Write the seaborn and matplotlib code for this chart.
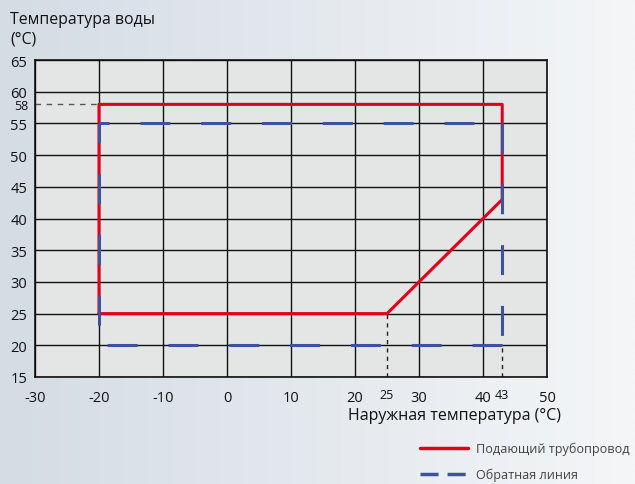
import numpy as np
import pandas as pd
import matplotlib
matplotlib.use("Agg")
import matplotlib.pyplot as plt
import seaborn as sns
from matplotlib.lines import Line2D

sns.set_theme(style="white")
plt.rcParams['font.family'] = ['Open Sans', 'DejaVu Sans']
plt.rcParams['axes.unicode_minus'] = False

# Operating envelope: supply (flow) line
supply_x = [-20, -20, 43, 43, 25, -20]
supply_y = [25, 58, 58, 43, 25, 25]
# Return line
return_x = [-20, -20, 43, 43, -20]
return_y = [20, 55, 55, 20, 20]

x_ticks = [-30, -20, -10, 0, 10, 20, 30, 40, 50]
y_ticks = [15, 20, 25, 30, 35, 40, 45, 50, 55, 60, 65]
x_marks = [25, 43]
y_marks = [58]

supply_label = "Подающий трубопровод"
return_label = "Обратная линия"
y_title = "Температура воды\n(°C)"
x_title = "Наружная температура (°C)"

supply_df = pd.DataFrame({"x": supply_x, "y": supply_y})

fig = plt.figure(figsize=(6.35, 4.85), dpi=100)

# soft horizontal gradient behind everything
bg = fig.add_axes([0, 0, 1, 1], zorder=-10)
grad = np.linspace(0, 1, 256)[None, :]
cmap = matplotlib.colors.LinearSegmentedColormap.from_list("bg", ["#d4dce4", "#e4e9ee", "#f4f6f8"])
bg.imshow(grad, aspect="auto", cmap=cmap, extent=[0, 1, 0, 1])
bg.axis("off")

ax = fig.add_axes([35 / 635, 1 - 378 / 485, 512 / 635, 317 / 485])
ax.set_facecolor("#e4e5e5")

red = "#e3001b"
blue = "#3d539e"

sns.lineplot(data=supply_df, x="x", y="y", sort=False, estimator=None, ax=ax,
             color=red, linewidth=2.2, zorder=3)

# return line: each side is stroked on its own, so every side gets its own dash phase
dash_on, dash_off = 9.8, 10.1
side_offsets = [13.4, 6.5, 0.0, 0.0]
for i, off in enumerate(side_offsets):
    seg = pd.DataFrame({"x": return_x[i:i + 2], "y": return_y[i:i + 2]})
    sns.lineplot(data=seg, x="x", y="y", sort=False, estimator=None, ax=ax,
                 color=blue, linewidth=2.2, zorder=4)
    ln = ax.lines[-1]
    ln.set_linestyle((off, (dash_on, dash_off)))
    ln.set_dash_capstyle("butt")

# reference guides to the special values
ax.plot([-30, -20], [58, 58], color="#555555", lw=1, ls=(0, (4, 4)), zorder=2)
ax.plot([25, 25], [15, 25], color="#222222", lw=1, ls=(0, (3, 3)), zorder=2)
ax.plot([43, 43], [15, 20], color="#222222", lw=1, ls=(0, (3, 3)), zorder=2)

ax.set_xlim(-30, 50)
ax.set_ylim(15, 65)
ax.set_xticks(x_ticks)
ax.set_yticks(y_ticks)
ax.set_xticks(x_marks, minor=True)
ax.set_xticklabels([str(v) for v in x_marks], minor=True)
ax.set_yticks(y_marks, minor=True)
ax.set_yticklabels([str(v) for v in y_marks], minor=True)

ax.tick_params(which="major", length=0, labelsize=10.5, colors="#111111")
ax.tick_params(which="minor", length=0, labelsize=9, colors="#111111")
ax.tick_params(axis="x", which="major", pad=9.5)
ax.tick_params(axis="x", which="minor", pad=8)
ax.tick_params(axis="y", which="major", pad=5.5)
ax.tick_params(axis="y", which="minor", pad=5)

ax.grid(True, which="major", color="#111111", lw=1)
ax.grid(False, which="minor")
for s in ax.spines.values():
    s.set_color("#111111")
    s.set_linewidth(1.2)

ax.set_xlabel("")
ax.set_ylabel("")
fig.text(455 / 635, 1 - 416 / 485, x_title, fontsize=11.5, color="#111111",
         va="center", ha="center")
fig.text(10 / 635, 1 - 12 / 485, y_title, fontsize=11.4, color="#111111",
         va="top", ha="left", linespacing=1.3)

handles = [Line2D([0], [0], color=red, lw=2.5),
           Line2D([0], [0], color=blue, lw=2.5, dashes=(5.2, 2.6))]
fig.legend(handles, [supply_label, return_label], loc="lower right",
           bbox_to_anchor=(1.0 - 3 / 635, 0.0), frameon=False, fontsize=9.1,
           labelcolor="#444444", handlelength=3.8, handletextpad=0.6,
           labelspacing=1.0, borderaxespad=0.1, borderpad=0.1)

fig.savefig("out.png", dpi=100)
